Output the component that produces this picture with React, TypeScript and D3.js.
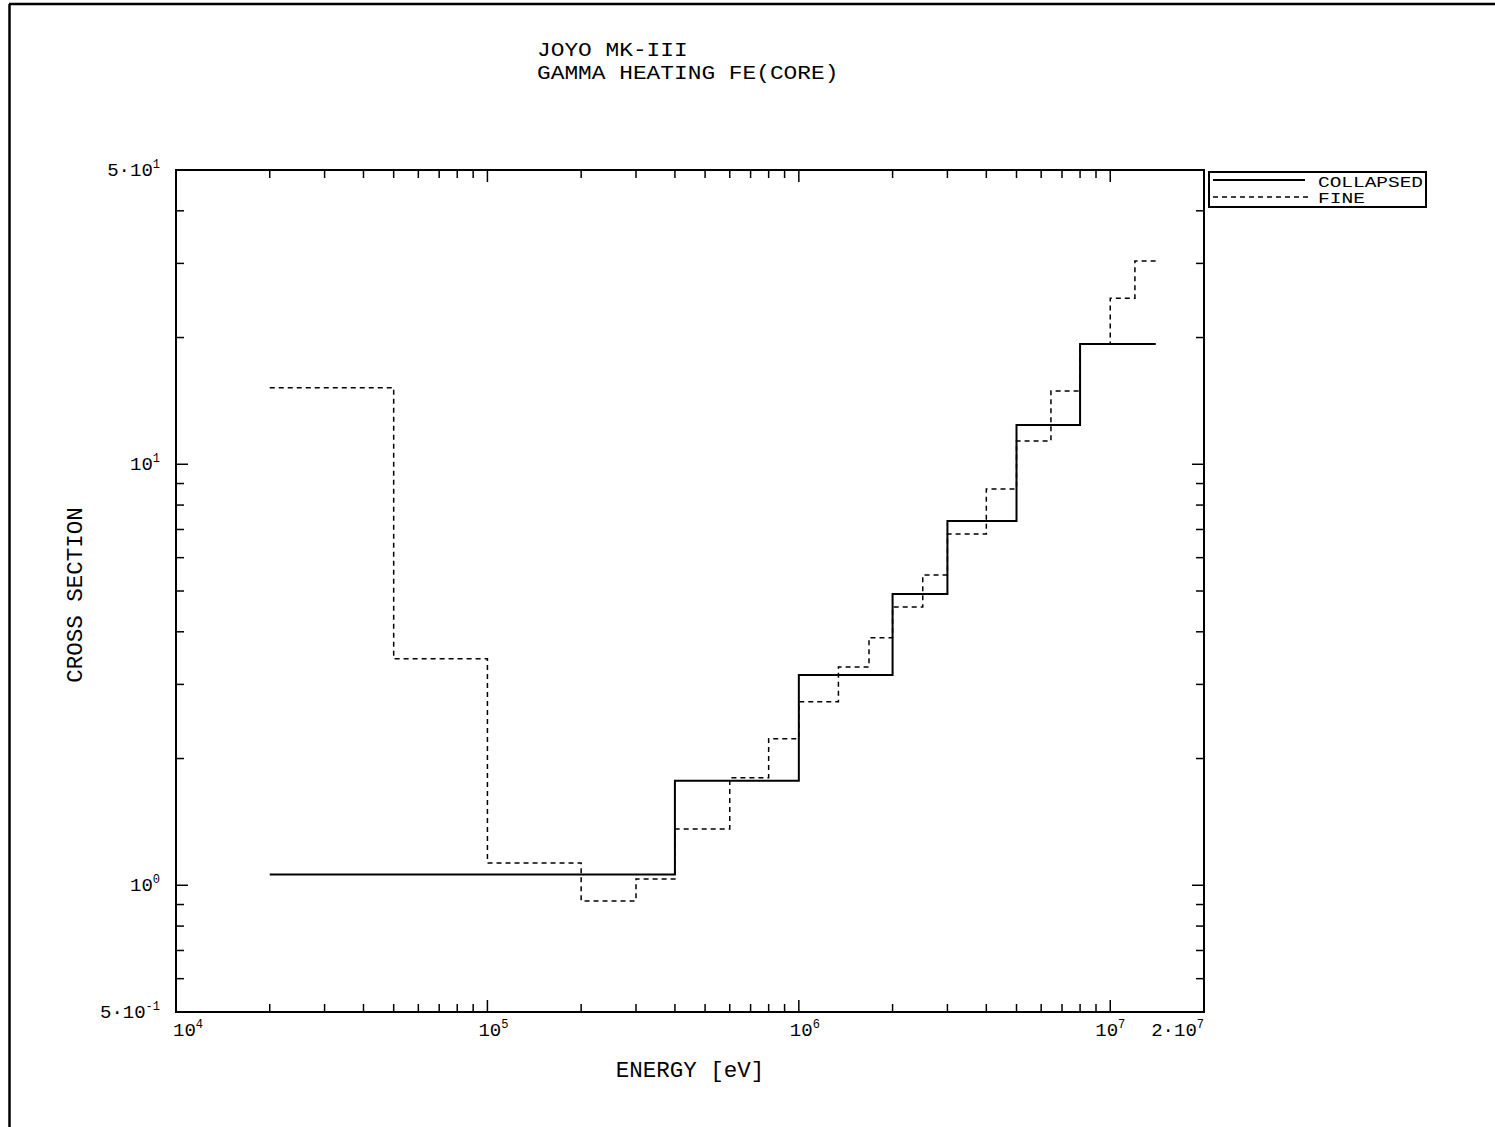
import React from "react";
import * as d3 from "d3";

const titleLines = ["JOYO MK-III", "GAMMA HEATING FE(CORE)"];
const xAxisTitle = "ENERGY [eV]";
const yAxisTitle = "CROSS SECTION";
const legendLabels = ["COLLAPSED", "FINE"];

// Energy group boundaries (eV) and values per group
const collapsedBounds = [2e4, 4e5, 1e6, 2e6, 3e6, 5e6, 8e6, 1.4e7];
const collapsedValues = [1.06, 1.77, 3.16, 4.92, 7.33, 12.4, 19.3];

const fineBounds = [2e4, 5e4, 1e5, 2e5, 3e5, 4e5, 6e5, 8e5, 1e6, 1.34e6, 1.68e6, 2e6, 2.5e6, 3e6, 4e6, 5e6, 6.45e6, 8e6, 1e7, 1.2e7, 1.4e7];
const fineValues = [15.2, 3.45, 1.13, 0.918, 1.035, 1.36, 1.8, 2.23, 2.73, 3.3, 3.87, 4.58, 5.46, 6.83, 8.74, 11.36, 14.93, 19.3, 24.8, 30.4];

const xTickLabels = [
  { v: 1e4, m: "10", e: "4" },
  { v: 1e5, m: "10", e: "5" },
  { v: 1e6, m: "10", e: "6" },
  { v: 1e7, m: "10", e: "7" },
  { v: 2e7, m: "2\u00b710", e: "7" },
];
const yTickLabels = [
  { v: 50, m: "5\u00b710", e: "1" },
  { v: 10, m: "10", e: "1" },
  { v: 1, m: "10", e: "0" },
  { v: 0.5, m: "5\u00b710", e: "-1" },
];

const FONT = "'Liberation Mono', 'DejaVu Sans Mono', monospace";

function stepPath(bounds: number[], values: number[], x: any, y: any) {
  const pts: [number, number][] = [];
  values.forEach((v, i) => {
    pts.push([x(bounds[i]), y(v)]);
    pts.push([x(bounds[i + 1]), y(v)]);
  });
  return d3.line()(pts) || "";
}

export default function App() {
  const L = 176, R = 1204, T = 170, B = 1012;
  const x = d3.scaleLog().domain([1e4, 2e7]).range([L, R]);
  const y = d3.scaleLog().domain([0.5, 50]).range([B, T]);

  const xTicks: { v: number; major: boolean }[] = [];
  for (let d = 1e4; d <= 1e7; d *= 10) {
    for (let k = 1; k <= 9; k++) {
      const v = d * k;
      if (v > 2e7) break;
      xTicks.push({ v, major: k === 1 });
    }
  }
  const yTicks: { v: number; major: boolean }[] = [];
  for (let d = 0.1; d <= 10; d *= 10) {
    for (let k = 1; k <= 9; k++) {
      const v = +(d * k).toPrecision(3);
      if (v < 0.5 || v > 50) continue;
      yTicks.push({ v, major: k === 1 });
    }
  }

  const collapsedD = stepPath(collapsedBounds, collapsedValues, x, y);
  const fineD = stepPath(fineBounds, fineValues, x, y);

  return (
    <svg
      width={1495}
      height={1127}
      style={{ position: "absolute", left: 0, top: 0, background: "#fff" }}
      fontFamily={FONT}
    >
      <rect x={0} y={0} width={1495} height={1127} fill="#fff" />
      {/* page frame */}
      <line x1={9} y1={4} x2={1495} y2={4} stroke="#000" strokeWidth={2.5} />
      <line x1={9.5} y1={4} x2={9.5} y2={1127} stroke="#000" strokeWidth={2.5} />

      {/* title */}
      {titleLines.map((t, i) => (
        <text
          key={i}
          x={537}
          y={56 + i * 23}
          fontSize={20}
          textLength={t.length * 13.7}
          lengthAdjust="spacingAndGlyphs"
          fill="#000"
        >
          {t}
        </text>
      ))}

      {/* plot frame */}
      <rect x={L} y={T} width={R - L} height={B - T} fill="none" stroke="#000" strokeWidth={2} />

      {/* x ticks */}
      {xTicks.map((t, i) => {
        const len = t.major ? 12 : 8;
        const xx = x(t.v);
        return (
          <g key={"xt" + i}>
            <line x1={xx} x2={xx} y1={B} y2={B - len} stroke="#000" strokeWidth={1.5} />
            <line x1={xx} x2={xx} y1={T} y2={T + len} stroke="#000" strokeWidth={1.5} />
          </g>
        );
      })}
      {/* y ticks */}
      {yTicks.map((t, i) => {
        const len = t.major ? 12 : 8;
        const yy = y(t.v);
        return (
          <g key={"yt" + i}>
            <line x1={L} x2={L + len} y1={yy} y2={yy} stroke="#000" strokeWidth={1.5} />
            <line x1={R} x2={R - len} y1={yy} y2={yy} stroke="#000" strokeWidth={1.5} />
          </g>
        );
      })}

      {/* x tick labels */}
      {xTickLabels.map((t, i) => {
        const last = i === xTickLabels.length - 1;
        return (
          <text
            key={"xl" + i}
            x={x(t.v) + (last ? 0 : i === 0 ? 12 : i === 3 ? 0 : 6)}
            y={B + 24}
            fontSize={19}
            textAnchor={last ? "end" : "middle"}
            fill="#000"
          >
            {t.m}
            <tspan fontSize={12} dy={-8}>
              {t.e}
            </tspan>
          </text>
        );
      })}

      {/* y tick labels */}
      {yTickLabels.map((t, i) => (
        <text key={"yl" + i} x={160} y={y(t.v) + 6} fontSize={19} textAnchor="end" fill="#000">
          {t.m}
          <tspan fontSize={12} dy={-8}>
            {t.e}
          </tspan>
        </text>
      ))}

      {/* axis titles */}
      <text x={690} y={1077} fontSize={22.5} textAnchor="middle" fill="#000">
        {xAxisTitle}
      </text>
      <text
        transform={`translate(82, ${595}) rotate(-90)`}
        fontSize={22.5}
        textAnchor="middle"
        fill="#000"
      >
        {yAxisTitle}
      </text>

      {/* data */}
      <path d={fineD} fill="none" stroke="#000" strokeWidth={1.5} strokeDasharray="5,4" />
      <path d={collapsedD} fill="none" stroke="#000" strokeWidth={2} />

      {/* legend */}
      <rect x={1209} y={172} width={217} height={35} fill="#fff" stroke="#000" strokeWidth={2} />
      <line x1={1213} x2={1305} y1={180} y2={180} stroke="#000" strokeWidth={2} />
      <line x1={1213} x2={1312} y1={197} y2={197} stroke="#000" strokeWidth={1.5} strokeDasharray="5,4" />
      <text x={1318} y={187} fontSize={15} textLength={105} lengthAdjust="spacingAndGlyphs" fill="#000">
        {legendLabels[0]}
      </text>
      <text x={1318} y={203} fontSize={15} textLength={47} lengthAdjust="spacingAndGlyphs" fill="#000">
        {legendLabels[1]}
      </text>
    </svg>
  );
}
